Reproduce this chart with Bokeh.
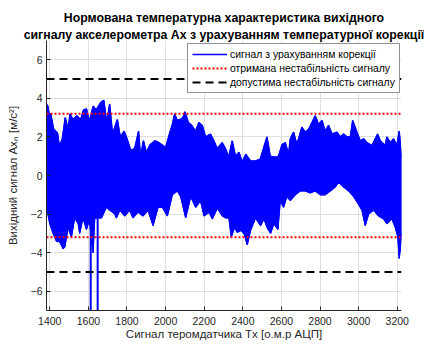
from bokeh.plotting import figure
from bokeh.models import Range1d, FixedTicker, Title
from bokeh.embed import file_html
from bokeh.resources import INLINE

# ---- data ----
x_ticks = [1400, 1600, 1800, 2000, 2200, 2400, 2600, 2800, 3000, 3200]
y_ticks = [-6, -4, -2, 0, 2, 4, 6]
x_min, x_max = 1383, 3222

# upper envelope of the corrected signal
up_x = [1383, 1390, 1396, 1405, 1420, 1440, 1450, 1465, 1480, 1495, 1505, 1520, 1540, 1560,
        1575, 1590, 1605, 1625, 1640, 1665, 1680, 1695, 1710, 1725, 1750, 1765, 1785, 1800,
        1820, 1840, 1860, 1870, 1885, 1900, 1920, 1945, 1965, 1980, 2000, 2020, 2035, 2047,
        2060, 2075, 2090, 2100, 2118, 2135, 2155, 2172, 2190, 2207, 2232, 2250, 2267, 2293,
        2310, 2327, 2345, 2362, 2380, 2397, 2415, 2440, 2465, 2490, 2507, 2525, 2542, 2568,
        2585, 2603, 2620, 2637, 2646, 2663, 2680, 2706, 2723, 2741, 2758, 2775, 2793, 2810,
        2827, 2844, 2862, 2888, 2905, 2922, 2940, 2957, 2969, 2991, 3008, 3026, 3043, 3069,
        3098, 3112, 3138, 3146, 3164, 3181, 3198, 3210, 3222]
up_y = [3.7, 3.6, 3.2, 3.2, 2.4, 2.2, 1.5, 1.9, 3.0, 2.4, 3.2, 2.9, 3.1, 2.9,
        3.4, 3.45, 2.8, 3.6, 3.4, 3.8, 3.9, 2.7, 3.7, 2.15, 2.9, 2.0, 2.3, 1.9,
        1.3, 1.4, 2.3, 0.95, 1.8, 1.2, 1.6, 1.8, 1.7, 1.6, 1.45, 2.15, 2.65, 3.2,
        2.85, 2.9, 3.0, 3.3, 2.75, 2.6, 2.3, 2.75, 2.6, 2.0, 2.15, 1.8, 1.4, 1.7,
        1.4, 0.95, 1.8, 1.0, 1.2, 0.7, 1.1, 0.75, 0.75, 0.85, 1.4, 2.0, 1.0, 0.95,
        1.0, 1.6, 1.7, 1.1, 1.9, 2.25, 1.6, 2.5, 2.25, 2.4, 2.75, 3.1, 2.65, 2.85,
        2.3, 2.6, 2.15, 2.25, 2.0, 2.15, 2.0, 2.0, 2.85, 2.25, 1.8, 1.9, 1.7, 1.55,
        2.15, 1.8, 1.55, 2.0, 1.7, 1.9, 1.55, 2.3, 0.95]

# lower envelope of the corrected signal
lo_x = [1383, 1390, 1400, 1417, 1434, 1452, 1469, 1478, 1495, 1512, 1529, 1547, 1555, 1572,
        1590, 1605, 1624, 1633, 1668, 1693, 1711, 1737, 1745, 1763, 1788, 1814, 1831, 1857,
        1883, 1909, 1935, 1961, 1983, 2009, 2035, 2061, 2078, 2104, 2130, 2156, 2181, 2199,
        2225, 2242, 2268, 2294, 2311, 2328, 2340, 2357, 2371, 2388, 2406, 2423, 2440, 2466,
        2492, 2509, 2526, 2544, 2561, 2582, 2594, 2611, 2628, 2646, 2672, 2698, 2723, 2749,
        2775, 2801, 2827, 2853, 2879, 2896, 2922, 2948, 2974, 3000, 3017, 3034, 3052, 3077,
        3103, 3129, 3146, 3172, 3190, 3203, 3210, 3217, 3222]
lo_y = [-1.0, -2.0, -2.5, -3.0, -3.4, -3.45, -3.8, -3.7, -2.7, -3.2, -2.2, -2.5, -3.0, -2.2,
        -2.8, -2.3, -4.0, -2.2, -2.2, -1.65, -1.8, -2.0, -2.2, -1.8, -2.1, -1.8, -2.2, -1.9,
        -2.1, -1.8, -2.6, -1.65, -1.65, -2.1, -1.0, -0.8, -1.1, -2.2, -1.1, -1.65, -1.3, -2.1,
        -1.9, -2.25, -1.7, -2.1, -2.2, -2.2, -3.2, -2.7, -2.95, -2.85, -3.0, -3.6, -2.85, -2.2,
        -2.6, -2.25, -2.7, -3.0, -2.5, -2.8, -1.3, -1.65, -1.1, -1.3, -1.0, -0.8, -0.8, -0.9,
        -0.8, -1.0, -1.0, -0.8, -0.6, -0.35, -0.6, -0.8, -1.1, -1.5, -1.8, -2.6, -2.0, -1.8,
        -2.1, -2.25, -2.5, -2.25, -2.7, -3.2, -4.3, -3.7, -3.0]

# two deep negative spikes
spike_x = [1612, 1648]
spike_top = [-2.0, -2.0]
spike_bottom = [-7.6, -7.6]

obtained_limit = 3.2   # red dotted
allowed_limit = 5.0    # black dashed

labels = ["сигнал з урахуванням корекції",
          "отримана нестабільність сигналу",
          "допустима нестабільність сигналу"]
title_lines = ["Нормована температурна характеристика вихідного",
               "сигналу акселерометра Ax з урахуванням температурної корекції"]

FONT = "Liberation Sans"
AX = "#262626"
BLUE = "#0000FF"

p = figure(width=424, height=345, output_backend="svg", toolbar_location=None,
           x_range=Range1d(x_min, x_max), y_range=Range1d(-7, 7),
           min_border_left=46, min_border_right=23, min_border_top=40, min_border_bottom=35,
           background_fill_color="white", border_fill_color="white")
p.outline_line_color = None

# two-line bold title (the figure title is the outer line)
p.title = Title(text=title_lines[0], align="center", text_font=FONT,
                text_font_size="12.3px", text_font_style="bold", text_color="black",
                standoff=4, offset=-2.5)
p.add_layout(Title(text=title_lines[1], align="center", text_font=FONT,
                   text_font_size="12.3px", text_font_style="bold", text_color="black",
                   standoff=-2, offset=-12), "above")

# signal band
p.patch(x=up_x + lo_x[::-1], y=up_y + lo_y[::-1], fill_color=BLUE, line_color=BLUE,
        line_width=1)
p.line(up_x, up_y, line_color=BLUE, line_width=1.5, legend_label=labels[0])
p.line(lo_x, lo_y, line_color=BLUE, line_width=1.2)
p.segment(x0=spike_x, y0=spike_top, x1=spike_x, y1=spike_bottom, line_color=BLUE,
          line_width=2)

# limits
for s in (1, -1):
    kw = dict(legend_label=labels[1]) if s == 1 else {}
    p.line([x_min, x_max], [s * obtained_limit] * 2, line_color="#FF0000", line_width=2,
           line_dash="2 2", **kw)
for s in (1, -1):
    kw = dict(legend_label=labels[2]) if s == 1 else {}
    p.line([x_min, x_max], [s * allowed_limit] * 2, line_color="black", line_width=2,
           line_dash="8 5", **kw)

# axes
for ax in (p.xaxis[0], p.yaxis[0]):
    ax.axis_line_color = AX
    ax.major_tick_line_color = AX
    ax.major_tick_in = 4
    ax.major_tick_out = 0
    ax.minor_tick_in = 0
    ax.minor_tick_out = 0
    ax.major_label_text_font = FONT
    ax.major_label_text_font_size = "10.5px"
    ax.major_label_text_color = AX
    ax.axis_label_text_font = FONT
    ax.axis_label_text_font_size = "11.5px"
    ax.axis_label_text_font_style = "normal"
    ax.axis_label_text_color = AX
p.xaxis.ticker = FixedTicker(ticks=x_ticks)
p.yaxis.ticker = FixedTicker(ticks=y_ticks)
p.xaxis.major_label_standoff = 6
p.xaxis.axis_label_standoff = 0
p.yaxis.major_label_standoff = 4
p.yaxis.axis_label_standoff = 9
p.xaxis.axis_label = "Сигнал теромдатчика Tx [о.м.р АЦП]"
p.yaxis.axis_label = "Вихідний сигнал Axₙ [м/с²]"

p.xgrid.grid_line_color = "#dedede"
p.ygrid.grid_line_color = "#dedede"

# legend
lg = p.legend[0]
lg.location = (141, 217)
lg.label_text_font = FONT
lg.label_text_font_size = "10.4px"
lg.label_text_color = "black"
lg.glyph_width = 35
lg.glyph_height = 12
lg.label_height = 12
lg.label_standoff = 3
lg.padding = 4
lg.spacing = 2
lg.margin = 0
lg.border_line_color = AX
lg.border_line_width = 1
lg.background_fill_alpha = 1

open("out.html", "w").write(file_html(p, INLINE))
